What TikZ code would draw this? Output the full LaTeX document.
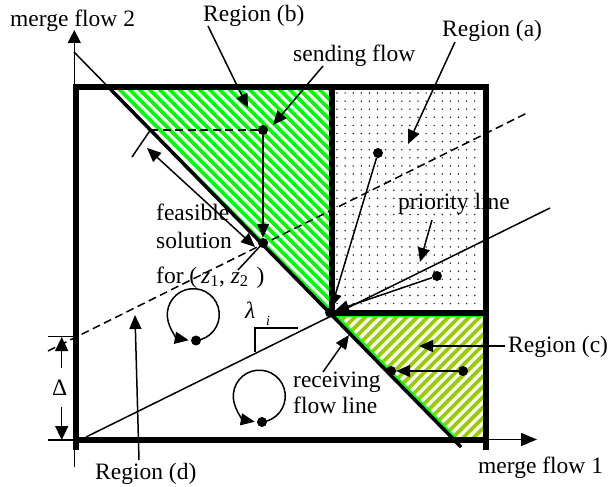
\documentclass[tikz,border=0pt]{standalone}
\usepackage{fontspec}
\setmainfont{Liberation Serif}
\usetikzlibrary{arrows.meta,calc}
\definecolor{brgreen}{RGB}{0,255,0}
\definecolor{ygreen}{RGB}{153,204,0}
\begin{document}
\begin{tikzpicture}[x=1pt,y=-1pt,
  thinln/.style={line width=1.5pt},
  boxln/.style={line width=6pt},
  tip/.tip={Triangle[length=14pt,width=12pt]},
  ptr/.style={line width=1.5pt,-tip},
  dptr/.style={line width=1.5pt,tip-tip},
  dot/.style={circle,fill=black,inner sep=0pt,minimum size=10pt},
  lbl/.style={font=\fontsize{23.5}{28}\selectfont, inner sep=0pt, anchor=base west},
  dashln/.style={line width=1.5pt, dash pattern=on 8pt off 4.5pt}]
\useasboundingbox (0,0) rectangle (608,487);

% ---- region (b): green stripes
\begin{scope}
  \clip (108.3,87) -- (331.5,87) -- (331.5,314.8) -- cycle;
  \foreach \c in {0,10,...,270} \draw[brgreen,line width=3.6pt] (\c+50,50) -- (\c+340,340);
\end{scope}
% ---- region (c): yellow-green stripes
\begin{scope}
  \clip (329.7,313) -- (486,313) -- (486,439.5) -- (453.2,439.5) -- cycle;
  \foreach \c in {620,630.4,...,950} \draw[ygreen,line width=3.8pt] (\c-290,290) -- (\c-460,460);
  \draw[brgreen,line width=8pt] (453.2,439.5) -- (329.7,313) -- (486,313);
\end{scope}
% ---- region (a): dots
\foreach \i in {0,...,17}
  \foreach \j in {0,...,26}
    \fill[black!85] (337+\i*8.1, 93+\j*8.1) circle (0.85pt);

% ---- lines
\coordinate (D0) at (74,52);
\coordinate (D1) at (461,447);
\coordinate (Dtop) at (108.3,87);
\draw[thinln] (D0) -- (D1);
\draw[line width=3.5pt] (Dtop) -- (D1);
\coordinate (E0) at (48,351);
\coordinate (E1) at (527,113);
\draw[dashln] (E0) -- (E1);
\coordinate (G0) at (86,437);
\coordinate (G1) at (550,208);
\draw[thinln] (G0) -- (G1);

% ---- thick box
\draw[boxln] (73,87.5) -- (489,87.5);
\draw[boxln] (73,439.5) -- (489,439.5);
\draw[boxln] (76,84.5) -- (76,450);
\draw[boxln] (486,84.5) -- (486,450);
\draw[boxln] (331.5,87.5) -- (331.5,313);
\draw[boxln] (331.5,313) -- (486,313);

% ---- axes
\coordinate (Y0) at (74.3,467);
\coordinate (Y1) at (74.3,30);
\draw[line width=1.5pt,-{Triangle[length=13pt,width=13pt]}] (Y0) -- (Y1);
\coordinate (X0) at (486,439.5);
\coordinate (X1) at (537,439.5);
\draw[line width=1.5pt,-{Triangle[length=16pt,width=13pt]}] (X0) -- (X1);

% ---- points
\node[dot] (S) at (263,130) {};
\node[dot] (F) at (263,243) {};
\node[dot] (C) at (330,312.5) {};
\node[dot] (A) at (378,153) {};
\node[dot] (P) at (437,276) {};
\node[dot] (Q1) at (463,371) {};
\node[dot] (Q2) at (391,371) {};
\node[dot] (L1) at (196,340.5) {};
\node[dot] (L2) at (262,422) {};

% ---- construction around feasible solution
\coordinate (P1) at (150.4,130);
\draw[dashln] (P1) -- (S);
\coordinate (T1) at (132,157);
\draw[thinln] (P1) -- (T1);
\coordinate (T2) at (238,270);
\draw[thinln] (F.center) -- (T2);
\coordinate (M1) at (147,148);
\coordinate (M2) at (255,247);
\draw[dptr] (M1) -- (M2);
\draw[ptr] (S) -- (F);

% ---- arrows into C
\draw[ptr] (A) -- (C);
\draw[ptr] (P) -- (C);
\draw[ptr] (Q1) -- (Q2);

% ---- loops
\draw[ptr] (L1.center) arc[start angle=84, end angle=-260, radius=26];
\draw[ptr] (L2.center) arc[start angle=84, end angle=-260, radius=26];

% ---- angle mark
\coordinate (K0) at (255,352);
\coordinate (K1) at (255,328);
\coordinate (K2) at (298,328);
\draw[thinln] (K0) -- (K1) -- (K2);

% ---- Delta dimension
\coordinate (W0) at (48,336.5);
\coordinate (W1) at (74,336.5);
\coordinate (W2) at (48,440);
\coordinate (W3) at (74,440);
\draw[thinln] (W0) -- (W1);
\draw[thinln] (W2) -- (W3);
\coordinate (V0) at (61.7,368);
\coordinate (V1) at (61.7,337);
\coordinate (V2) at (61.7,407);
\coordinate (V3) at (61.7,440);
\draw[line width=1.5pt,-{Triangle[length=14pt,width=13pt]}] (V0) -- (V1);
\draw[line width=1.5pt,-{Triangle[length=14pt,width=13pt]}] (V2) -- (V3);

% ---- labels
\node[lbl] (mf2) at (10,27) {merge flow 2};
\node[lbl] (rb) at (203,22) {Region (b)};
\node[lbl] (sf) at (293,62) {sending flow};
\node[lbl] (ra) at (442,37) {Region (a)};
\node[lbl] (pl) at (398,209) {priority line};
\node[lbl] (rc) at (508,352) {Region (c)};
\node[lbl] (rv1) at (293,387) {receiving};
\node[lbl] (rv2) at (293,413) {flow line};
\node[lbl] (rd) at (95,479) {Region (d)};
\node[lbl] (mf1) at (478,473) {merge flow 1};
\node[lbl] (dl) at (52,395) {Δ};
\node[lbl] (fs1) at (156,220) {feasible};
\node[lbl] (fs2) at (156,248) {solution};
\node[lbl] (fs3) at (156,283) {for (\,\textit{z}\textsubscript{1}, \textit{z}\textsubscript{2}\hspace{8pt})};
\node[lbl] (lam) at (245,318) {\textit{λ}};
\node[lbl] (lami) at (266,325) {\fontsize{14}{14}\selectfont\textit{i}};

% ---- label pointers
\coordinate (Rb0) at (208,26);  \coordinate (Rb1) at (248,108);
\draw[ptr] (Rb0) -- (Rb1);
\coordinate (Sf0) at (323,66);  \coordinate (Sf1) at (273,125);
\draw[ptr] (Sf0) -- (Sf1);
\coordinate (Ra0) at (455,42);  \coordinate (Ra1) at (408,144);
\draw[ptr] (Ra0) -- (Ra1);
\coordinate (Pl0) at (432,220); \coordinate (Pl1) at (420,262);
\draw[ptr] (Pl0) -- (Pl1);
\coordinate (Rc0) at (505,346); \coordinate (Rc1) at (419,346);
\draw[ptr] (Rc0) -- (Rc1);
\coordinate (Rv0) at (323,372); \coordinate (Rv1) at (349,335);
\draw[ptr] (Rv0) -- (Rv1);
\coordinate (Rd0) at (139,460); \coordinate (Rd1) at (135,315);
\draw[ptr] (Rd0) -- (Rd1);
\end{tikzpicture}
\end{document}
